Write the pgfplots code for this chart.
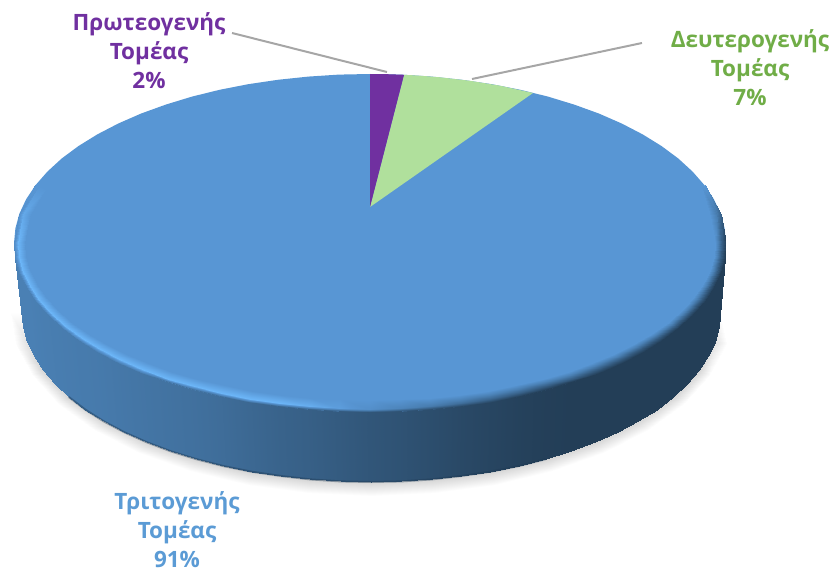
\documentclass[border=0pt]{standalone}
\usepackage{pgfplots}
\pgfplotsset{compat=1.18}
\usepackage{fontspec}
\setmainfont{Open Sans}
\definecolor{ctop}{RGB}{88,150,212}
\definecolor{cpur}{RGB}{112,48,160}
\definecolor{cgrn}{RGB}{176,224,156}
\definecolor{tgrn}{RGB}{112,173,71}
\definecolor{tblu}{RGB}{91,155,213}
\definecolor{cline}{RGB}{166,166,166}
\definecolor{cdark}{RGB}{31,59,85}
\pgfplotsset{
 colormap={piemap}{rgb255(0pt)=(35,62,87) rgb255(55pt)=(74,128,180) rgb255(80pt)=(88,150,212) rgb255(100pt)=(108,182,248)},
 colormap={shademap}{rgb255(0pt)=(212,212,212) rgb255(100pt)=(255,255,255)}
}
\newcommand{\lab}[1]{\fontsize{22.5}{29}\selectfont\bfseries #1}
\begin{document}
\begin{tikzpicture}
\begin{axis}[
  scale only axis, width=834pt, height=572pt,
  xmin=0, xmax=834, ymin=0, ymax=572, zmin=0, zmax=100,
  view={0}{90}, hide axis, clip=false,
  point meta min=0, point meta max=100,
  enlargelimits=false,
]
\path (axis cs:0,0,0) -- (axis cs:834,572,0);
% shadow
\addplot3[surf, shader=interp, colormap name=shademap, mesh/cols=2, mesh/rows=19] table {
720 260 100
732 260 100
714.7 230.5 30
726.5 228.1 100
699 201.9 0
710.2 197.1 100
673.2 175 0
683.6 168 100
638.3 150.7 0
647.5 141.7 100
595.3 129.8 0
603 119 100
545.5 112.8 0
551.5 100.7 100
490.4 100.3 0
494.5 87.1 100
431.6 92.6 0
433.7 78.8 100
371 90 0
371 76 100
310.4 92.6 0
308.3 78.8 100
251.6 100.3 0
247.5 87.1 100
196.5 112.8 0
190.5 100.7 100
146.7 129.8 0
139 119 100
103.7 150.7 0
94.5 141.7 100
68.8 175 0
58.4 168 100
43 201.9 0
31.8 197.1 100
27.3 230.5 30
15.5 228.1 100
22 260 100
10 260 100
};
% side wall
\addplot3[surf, shader=interp, colormap name=piemap, mesh/cols=2, mesh/rows=37] table {
726 329 0
720 260 0
724.6 314.3 0
718.7 245.2 0
720.6 299.7 0
714.7 230.5 0
713.9 285.3 0
708.1 216 0
704.5 271.2 0
699 201.9 0
692.6 257.6 0
687.3 188.2 0
678.3 244.5 0
673.2 175 0
661.6 232.1 0
656.9 162.5 0
642.7 220.4 0
638.3 150.7 0
621.7 209.5 0
617.8 139.8 0
598.8 199.5 0
595.3 129.8 0
574.2 190.6 0
571.2 120.7 0
548 182.6 1
545.5 112.8 1
520.4 175.8 3
518.5 105.9 3
491.8 170.2 6
490.4 100.3 6
462.1 165.8 9
461.3 96 9
431.8 162.6 13
431.6 92.6 13
401 160.6 17
401.4 90.6 17
370 160 20
371 90 20
339 160.6 24
340.6 90.6 24
308.2 162.6 28
310.4 92.6 28
277.9 165.8 31
280.7 96 31
248.2 170.2 35
251.6 100.3 35
219.6 175.8 39
223.5 105.9 39
192 182.6 42
196.5 112.8 42
165.8 190.6 44
170.8 120.7 44
141.2 199.5 46
146.7 129.8 46
118.3 209.5 48
124.2 139.8 48
97.3 220.4 50
103.7 150.7 50
78.4 232.1 51
85.1 162.5 51
61.7 244.5 52
68.8 175 52
47.4 257.6 53
54.7 188.2 53
35.5 271.2 54
43 201.9 54
26.1 285.3 55
33.9 216 55
19.4 299.7 55
27.3 230.5 55
15.4 314.3 55
23.3 245.2 55
14 329 55
22 260 55
};
% dark lower edge of the wall
\addplot3[draw=cdark, opacity=0.45, line width=2pt] coordinates {
(545.5,112.8,0)(518.5,105.9,0)(490.4,100.3,0)(461.3,96,0)(431.6,92.6,0)(401.4,90.6,0)(371,90,0)(340.6,90.6,0)(310.4,92.6,0)(280.7,96,0)(251.6,100.3,0)(223.5,105.9,0)(196.5,112.8,0)(170.8,120.7,0)(146.7,129.8,0)(124.2,139.8,0)(103.7,150.7,0)(85.1,162.5,0)(68.8,175,0)
};
% top face: Τριτογενής Τομέας
\addplot3[fill=ctop, draw=none] coordinates {
(726,329,0)(724.6,314.3,0)(720.6,299.7,0)(713.9,285.3,0)(704.5,271.2,0)(692.6,257.6,0)(678.3,244.5,0)(661.6,232.1,0)(642.7,220.4,0)(621.7,209.5,0)(598.8,199.5,0)(574.2,190.6,0)(548,182.6,0)(520.4,175.8,0)(491.8,170.2,0)(462.1,165.8,0)(431.8,162.6,0)(401,160.6,0)(370,160,0)(339,160.6,0)(308.2,162.6,0)(277.9,165.8,0)(248.2,170.2,0)(219.6,175.8,0)(192,182.6,0)(165.8,190.6,0)(141.2,199.5,0)(118.3,209.5,0)(97.3,220.4,0)(78.4,232.1,0)(61.7,244.5,0)(47.4,257.6,0)(35.5,271.2,0)(26.1,285.3,0)(19.4,299.7,0)(15.4,314.3,0)(14,329,0)
(15.4,343.7,0)(19.4,358.3,0)(26.1,372.7,0)(35.5,386.8,0)(47.4,400.4,0)(61.7,413.5,0)(78.4,425.9,0)(97.3,437.6,0)(118.3,448.5,0)(141.2,458.5,0)(165.8,467.4,0)(192,475.4,0)(219.6,482.2,0)(248.2,487.8,0)(277.9,492.2,0)(308.2,495.4,0)(339,497.4,0)(370,498,0)(401,497.4,0)(431.8,495.4,0)(462.1,492.2,0)(491.8,487.8,0)(520.4,482.2,0)(548,475.4,0)(574.2,467.4,0)(598.8,458.5,0)(621.7,448.5,0)(642.7,437.6,0)(661.6,425.9,0)(678.3,413.5,0)(692.6,400.4,0)(704.5,386.8,0)(713.9,372.7,0)(720.6,358.3,0)(724.6,343.7,0)
} --cycle;
% bevel of the rim
\addplot3[surf, shader=interp, colormap name=piemap, mesh/cols=3, mesh/rows=41] table {
694.2 382.7 80
700.8 385.6 80
704.5 386.8 80
709.8 356.3 80
716.6 357.7 50
720.6 358.3 30
715 329 80
722 329 25
726 329 0
713.7 315.3 80
720.7 314.6 25
724.6 314.3 0
709.8 301.7 80
716.6 300.3 25
720.6 299.7 0
703.2 288.4 80
710 286.2 25
713.9 285.3 0
694.2 275.3 80
700.8 272.4 25
704.5 271.2 0
682.7 262.7 80
689 259.1 25
692.6 257.6 0
668.8 250.5 80
674.8 246.2 25
678.3 244.5 0
652.6 238.9 80
658.4 233.9 25
661.6 232.1 0
634.3 228.1 80
639.6 222.6 25
642.7 220.4 0
614 218 80
618.9 212 25
621.7 209.5 0
591.8 208.7 80
596.3 202.2 25
598.8 199.5 0
567.9 200.4 80
571.9 193.4 25
574.2 190.6 0
542.5 193 80
546 185.7 25
548 182.6 1
515.8 186.7 80
518.8 179 28
520.4 175.8 3
488 181.5 80
490.4 173.5 32
491.8 170.2 6
459.3 177.4 80
461.1 169.1 40
462.1 165.8 9
429.9 174.4 80
431.1 166 50
431.8 162.6 13
400.1 172.6 80
400.7 164.1 60
401 160.6 17
370 172 80
370 163.5 72
370 160 20
339.9 172.6 80
339.3 164.1 85
339 160.6 24
310.1 174.4 80
308.9 166 95
308.2 162.6 28
280.7 177.4 80
278.9 169.1 100
277.9 165.8 31
252 181.5 80
249.6 173.5 100
248.2 170.2 35
224.2 186.7 80
221.2 179 100
219.6 175.8 39
197.5 193 80
194 185.7 100
192 182.6 42
172.1 200.4 80
168.1 193.4 100
165.8 190.6 44
148.2 208.7 80
143.7 202.2 100
141.2 199.5 46
126 218 80
121.1 212 100
118.3 209.5 48
105.7 228.1 80
100.4 222.6 100
97.3 220.4 50
87.4 238.9 80
81.6 233.9 100
78.4 232.1 51
71.2 250.5 80
65.2 246.2 100
61.7 244.5 52
57.3 262.7 80
51 259.1 100
47.4 257.6 53
45.8 275.3 80
39.2 272.4 100
35.5 271.2 54
36.8 288.4 80
30 286.2 100
26.1 285.3 55
30.2 301.7 80
23.4 300.3 100
19.4 299.7 60
26.3 315.3 80
19.3 314.6 100
15.4 314.3 65
25 329 80
18 329 100
14 329 70
30.2 356.3 80
23.4 357.7 92
19.4 358.3 75
45.8 382.7 80
39.2 385.6 80
35.5 386.8 80
};
% Δευτερογενής Τομέας
\addplot3[fill=cgrn, draw=none] coordinates {
(370,365,0)(404,497.2,0)(420,496.3,0)(440,494.7,0)(470,491.2,0)(500,486.3,0)(533,479,0)
} --cycle;
% Πρωτεογενής Τομέας
\addplot3[fill=cpur, draw=none] coordinates {
(370,365,0)(370,498,0)(387,497.8,0)(404,497.2,0)
} --cycle;
% leader lines
\addplot3[draw=cline, line width=2pt] coordinates {(232,539,0)(387,500,0)};
\addplot3[draw=cline, line width=2pt] coordinates {(472,493,0)(642,529,0)};
% labels
\node[text=cpur, align=center, font=\lab{}] at (axis cs:149,521,0) {Πρωτεογενής\\Τομέας\\2\%};
\node[text=tgrn, align=center, font=\lab{}] at (axis cs:750,504,0) {Δευτερογενής\\Τομέας\\7\%};
\node[text=tblu, align=center, font=\lab{}] at (axis cs:177,42,0) {Τριτογενής\\Τομέας\\91\%};
\end{axis}
\end{tikzpicture}
\end{document}
